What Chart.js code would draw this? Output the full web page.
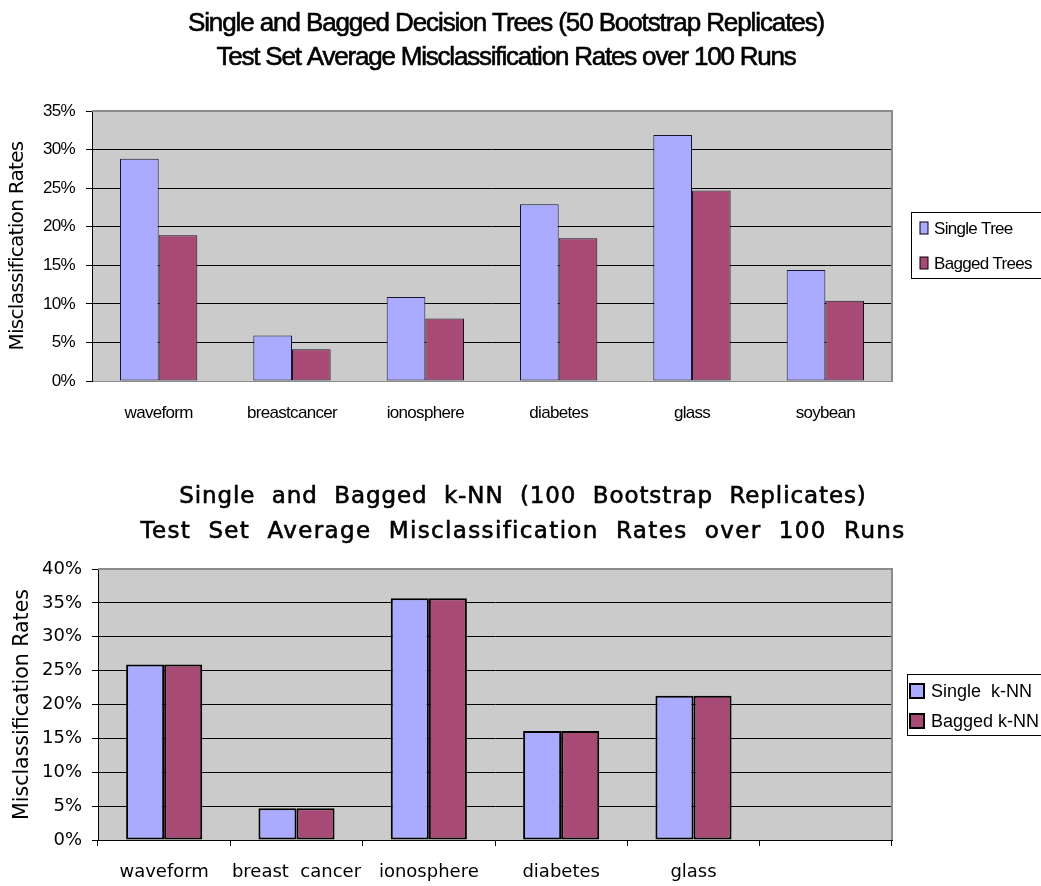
<!DOCTYPE html>
<html>
<head>
<meta charset="utf-8">
<title>Bagging misclassification rates</title>
<style>
  body { margin: 0; background: #fff; overflow: hidden; }
  canvas { position: absolute; left: 0; display: block; }
  #treeChart { top: 0; }
  #knnChart { top: 450px; }
</style>
</head>
<body>
<canvas id="treeChart" width="1041" height="450"></canvas>
<canvas id="knnChart" width="1041" height="436"></canvas>

<script src="https://cdn.jsdelivr.net/npm/chart.js@4.4.0/dist/chart.umd.min.js"></script>
<script>
  // decision trees, 50 bootstrap replicates (percent)
  const treeSets = ['waveform', 'breastcancer', 'ionosphere', 'diabetes', 'glass', 'soybean']
  const singleTree = [28.8, 5.9, 10.9, 22.9, 31.9, 14.4]
  const baggedTrees = [18.9, 4.1, 8.1, 18.5, 24.7, 10.4]
  const treeTicks = [0, 5, 10, 15, 20, 25, 30, 35]

  // k-NN, 100 bootstrap replicates (percent); last slot is left empty
  const knnSets = ['waveform', 'breast  cancer', 'ionosphere', 'diabetes', 'glass', '']
  const singleKnn = [25.9, 4.7, 35.7, 16.1, 21.3, null]
  const baggedKnn = [25.9, 4.7, 35.7, 16.1, 21.3, null]
  const knnTicks = [0, 5, 10, 15, 20, 25, 30, 35, 40]

  const SINGLE = '#aaabff'
  const BAGGED = '#a84a76'
  const PLOT_BG = '#cbcbcb'

  // grey plot background, frame, titles and a boxed legend on the right
  function framePlugin(cfg) {
    return {
      id: 'frame',
      beforeDraw(chart) {
        const ctx = chart.ctx
        const a = chart.chartArea
        ctx.save()
        ctx.fillStyle = PLOT_BG
        ctx.fillRect(a.left, a.top, a.right - a.left, a.bottom - a.top)
        ctx.restore()
        ctx.letterSpacing = cfg.labelSpacing
      },
      afterDraw(chart) {
        const ctx = chart.ctx
        const a = chart.chartArea
        ctx.save()
        ctx.strokeStyle = '#8c8c8c'
        ctx.lineWidth = 2
        ctx.beginPath()
        ctx.moveTo(a.left, a.top)
        ctx.lineTo(a.right, a.top)
        ctx.lineTo(a.right, a.bottom)
        ctx.stroke()

        // two-line heading, slightly heavier than regular weight
        ctx.fillStyle = '#000'
        ctx.strokeStyle = '#000'
        ctx.lineWidth = 0.6
        ctx.textAlign = 'center'
        ctx.textBaseline = 'alphabetic'
        ctx.font = cfg.titleFont
        cfg.title.forEach((line, i) => {
          ctx.letterSpacing = cfg.titleSpacing[i]
          ctx.fillText(line, cfg.titleX, cfg.titleY[i])
          ctx.strokeText(line, cfg.titleX, cfg.titleY[i])
        })

        const lg = cfg.legend
        ctx.lineWidth = 1
        ctx.strokeStyle = '#000'
        ctx.strokeRect(lg.x + 0.5, lg.y + 0.5, chart.width, lg.h)
        ctx.font = lg.font
        ctx.letterSpacing = cfg.labelSpacing
        ctx.textAlign = 'left'
        chart.data.datasets.forEach((ds, i) => {
          const top = lg.y + lg.first + i * lg.step
          ctx.fillStyle = ds.backgroundColor
          ctx.fillRect(lg.x + lg.pad, top, lg.sw, lg.sh)
          ctx.lineWidth = lg.sb
          ctx.strokeStyle = '#000'
          ctx.strokeRect(lg.x + lg.pad, top, lg.sw, lg.sh)
          ctx.fillStyle = '#000'
          ctx.fillText(ds.label, lg.x + lg.textX, top + lg.base)
        })
        ctx.restore()
      }
    }
  }

  function pct(v) {
    return v + '%'
  }

  function makeChart(id, opt) {
    const canvas = document.getElementById(id)
    const ctx = canvas.getContext('2d')
    const top = opt.ticks[opt.ticks.length - 1]
    return new Chart(ctx, {
      type: 'bar',
      data: {
        labels: opt.labels,
        datasets: [
          { label: opt.names[0], data: opt.series[0], backgroundColor: SINGLE,
            borderColor: opt.barBorder, borderWidth: opt.barLine, borderSkipped: false },
          { label: opt.names[1], data: opt.series[1], backgroundColor: BAGGED,
            borderColor: opt.barBorder, borderWidth: opt.barLine, borderSkipped: false }
        ]
      },
      options: {
        responsive: false,
        animation: false,
        categoryPercentage: opt.groupWidth,
        barPercentage: 1.0,
        layout: { padding: { top: opt.area.top, right: opt.area.right, left: 0, bottom: 0 } },
        plugins: {
          legend: { display: false },
          tooltip: { enabled: false }
        },
        scales: {
          x: {
            grid: { display: opt.xTicks, drawOnChartArea: false, drawTicks: opt.xTicks,
                    tickLength: 6, color: '#000', offset: true },
            border: { display: true, color: opt.baseColor, width: opt.baseWidth },
            ticks: { color: '#000', font: opt.tickFont, padding: opt.xPad,
                     autoSkip: false, maxRotation: 0 },
            afterFit: s => { s.height = opt.area.xHeight }
          },
          y: {
            min: 0,
            max: top,
            afterBuildTicks: s => { s.ticks = opt.ticks.map(v => ({ value: v })) },
            grid: {
              color: c => (c.tick && (c.tick.value === 0 || c.tick.value === top)) ? '#8c8c8c' : '#000',
              lineWidth: 1,
              tickLength: 6,
              tickColor: '#000'
            },
            border: { display: true, color: '#000', width: 1 },
            ticks: { color: '#000', font: opt.tickFont, padding: opt.yPad, callback: pct },
            title: { display: true, text: 'Misclassification Rates', color: '#000',
                     font: opt.axisFont, padding: { top: opt.titlePad, bottom: 0 } },
            afterFit: s => { s.width = opt.area.left }
          }
        }
      },
      plugins: [framePlugin(opt.frame)]
    })
  }

  const narrow = 'Liberation Sans'

  makeChart('treeChart', {
    labels: treeSets,
    names: ['Single Tree', 'Bagged Trees'],
    series: [singleTree, baggedTrees],
    ticks: treeTicks,
    groupWidth: 0.58,
    barBorder: '#14142a',
    barLine: 1,
    baseColor: '#8c8c8c',
    baseWidth: 1,
    xTicks: false,
    xPad: 22,
    yPad: 11,
    titlePad: 6,
    tickFont: { family: narrow, size: 17 },
    axisFont: { family: 'DejaVu Sans', size: 20 },
    area: { top: 111, right: 149, left: 92, xHeight: 69 },
    frame: {
      labelSpacing: '-0.7px',
      titleSpacing: ['-1.1px', '-1.2px'],
      titleFont: '26px ' + narrow,
      title: ['Single and Bagged Decision Trees (50 Bootstrap Replicates)',
              'Test Set Average Misclassification Rates over 100 Runs'],
      titleX: 506,
      titleY: [31, 65],
      legend: { x: 911, y: 212, h: 66, pad: 9, first: 10, step: 35, sw: 8, sh: 12,
                sb: 1, textX: 23, base: 12, font: '17px ' + narrow }
    }
  })

  makeChart('knnChart', {
    labels: knnSets,
    names: ['Single  k-NN', 'Bagged k-NN'],
    series: [singleKnn, baggedKnn],
    ticks: knnTicks,
    groupWidth: 0.575,
    barBorder: '#000',
    barLine: 2,
    baseColor: '#000',
    baseWidth: 1,
    xTicks: true,
    xPad: 16,
    yPad: 10,
    titlePad: 10,
    tickFont: { family: 'DejaVu Sans', size: 18 },
    axisFont: { family: 'DejaVu Sans', size: 20.5 },
    area: { top: 119, right: 149, left: 98, xHeight: 46 },
    frame: {
      labelSpacing: '0px',
      titleSpacing: ['0.9px', '1.35px'],
      titleFont: '23px "DejaVu Sans"',
      title: ['Single  and  Bagged  k-NN  (100  Bootstrap  Replicates)',
              'Test  Set  Average  Misclassification  Rates  over  100  Runs'],
      titleX: 523,
      titleY: [53, 88],
      legend: { x: 907, y: 224, h: 61, pad: 3, first: 10, step: 30, sw: 14, sh: 14,
                sb: 2, textX: 24, base: 13, font: '18px "Liberation Sans"' }
    }
  })
</script>
</body>
</html>
